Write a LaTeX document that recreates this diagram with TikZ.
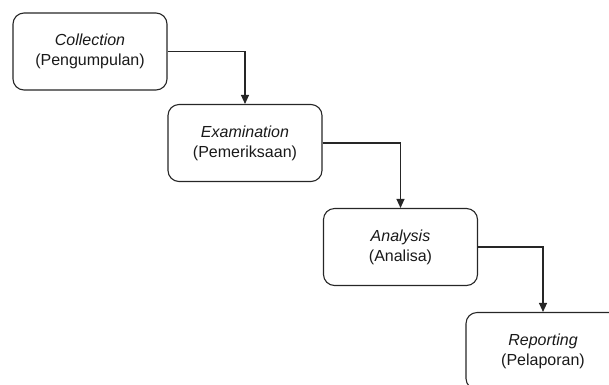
\documentclass[tikz,border=0pt]{standalone}
\usepackage{fontspec}
\setmainfont{Liberation Sans}
\usetikzlibrary{arrows.meta}
\begin{document}
\begin{tikzpicture}[x=1pt,y=-1pt,
  stagebox/.style={draw=black!85, line width=1.1pt, rounded corners=11pt,
    minimum width=154pt, minimum height=77pt, inner sep=0pt, align=center,
    font=\fontsize{16}{20}\selectfont, text=black!90},
  flow/.style={draw=black!85, line width=1.1pt, -{Triangle[length=9pt,width=8pt]}}]
\clip (0,0) rectangle (609,384);
\node[stagebox] (col) at (90,51.5) {\textit{Collection}\\(Pengumpulan)};
\node[stagebox] (exa) at (245,143) {\textit{Examination}\\(Pemeriksaan)};
\node[stagebox] (ana) at (400.5,247) {\textit{Analysis}\\(Analisa)};
\node[stagebox] (rep) at (543,351) {\textit{Reporting}\\(Pelaporan)};
\draw[flow] (col.east) -| (exa.north);
\draw[flow] (exa.east) -| (ana.north);
\draw[flow] (ana.east) -| (rep.north);
\end{tikzpicture}
\end{document}
